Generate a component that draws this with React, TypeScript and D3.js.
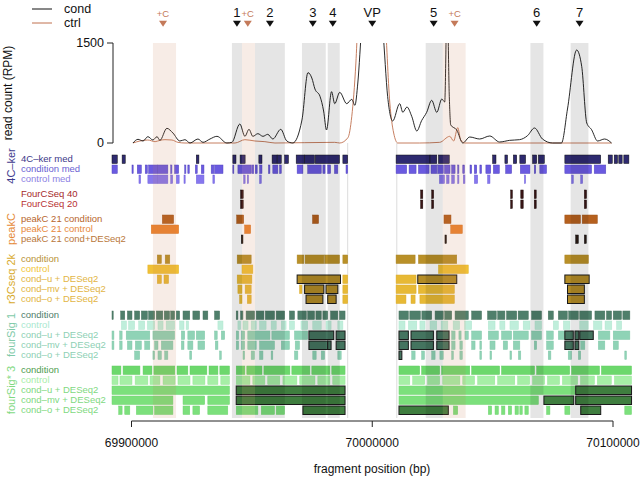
import React from "react";
import * as d3 from "d3";

// genomic positions below are in kb relative to ORIGIN (bp)
const ORIGIN = 69900000;
const xTicks = [69900000, 70000000, 70100000];
const yTicks = [0, 1500];

const condCurve: [number, number][] = [[0.6,0],[2.7,55],[4.8,30],[6.8,95],[8.9,45],[10.6,95],[11.8,40],[14.7,220],[17.2,150],[20.1,30],[22.2,50],[24.3,0],[27.6,60],[29.7,10],[32.6,60],[35.5,100],[39.6,0],[41.7,10],[45.0,285],[47.1,100],[48.8,205],[50.4,100],[52.5,140],[54.6,100],[56.6,130],[58.7,60],[62.0,205],[64.5,30],[67.0,0],[70.8,345],[73.3,1055],[74.9,975],[76.2,810],[78.3,700],[79.8,480],[81.0,195],[83.1,770],[84.4,590],[86.5,760],[89.4,590],[91.5,655],[92.8,565],[94.0,900],[95.7,1800],[99.0,3000],[101.9,2500],[104.4,1700],[106.4,695],[108.5,330],[111.4,590],[112.7,460],[114.4,540],[116.4,400],[118.5,180],[120.5,335],[122.6,460],[124.7,640],[126.8,460],[128.9,660],[130.1,615],[131.1,2200],[132.0,700],[132.6,270],[135.1,195],[137.6,0],[140.5,90],[144.6,60],[148.8,105],[152.9,15],[157.1,40],[161.2,50],[164.5,110],[167.4,225],[170.7,60],[174.9,0],[178.6,0],[181.1,510],[184.9,1395],[187.0,1150],[189.1,300],[191.1,200],[193.6,30],[196.5,60],[199.4,0]];
const ctrlCurve: [number, number][] = [[0.6,0],[3.5,30],[6.8,45],[9.8,20],[11.8,40],[13.9,50],[16.8,45],[19.3,10],[22.2,0],[43.0,0],[47.1,50],[51.3,30],[55.4,20],[59.6,0],[84.4,10],[86.5,0],[89.9,80],[91.5,400],[93.2,1200],[94.8,2500],[100.0,4000],[105.2,2000],[107.3,600],[108.9,150],[110.6,0],[119.7,0],[128.0,10],[132.2,100],[133.8,30],[135.5,230],[136.7,50],[138.4,0],[199.4,0]];

const greyBands: [number, number][] = [[41.7,45.9],[51.3,63.7],[70.8,80.7],[81.5,86.5],[122.2,129.3],[165.7,171.1],[182.4,189.8]];
const plusCBands: [number, number][] = [[8.9,18.5],[45.9,51.3],[129.3,138.8]];
const vpWindow = [89.8, 110.2];

const markerLabels = ["+C","1","+C","2","3","4","VP","5","+C","6","7"];
const markerPos = [13.1,43.8,48.3,57.5,75.3,83.6,100,125.5,134.2,168.3,186.1];

// 4C-ker
const ker4c: [number, number][] = [[-8.1,-5.9],[-3.9,-2.6],[26.9,28.0],[42.1,43.4],[45.1,47.2],[52.9,54.2],[58.4,60.5],[60.5,62.2],[63.6,65.2],[68.4,71.9],[71.9,76.0],[76.3,86.4],[87.8,89.8],[109.9,124.0],[124.0,126.8],[127.5,132.0],[150.0,151.4],[155.1,156.2],[158.6,160.0],[161.3,163.7],[166.6,168.3],[169.0,171.5],[180.0,194.9],[198.0,199.7],[200.5,201.9],[202.4,203.8],[204.5,206.6]];
const condMed: [number, number][] = [[-8.1,-5.9],[0.2,0.7],[2.4,4.1],[5.7,6.6],[7.1,10.7],[10.7,15.1],[16.3,16.8],[17.9,19.6],[22.1,22.6],[23.4,24.0],[26.5,27.3],[29.0,30.1],[33.1,34.2],[34.5,38.0],[42.1,42.5],[44.2,49.7],[50.0,50.8],[51.4,52.2],[53.2,54.2],[56.9,57.5],[58.7,60.8],[61.5,62.2],[68.8,71.2],[73.2,78.8],[79.5,80.4],[81.5,82.7],[84.3,85.7],[89.1,89.8],[109.9,114.3],[115.3,118.2],[119.2,123.6],[124.4,126.8],[127.2,129.5],[130.0,132.3],[133.0,134.4],[135.5,136.0],[137.6,138.3],[140.6,141.3],[142.4,143.4],[144.7,145.4],[147.2,149.2],[150.3,152.8],[155.4,157.9],[161.5,165.5],[167.3,167.9],[169.6,172.4],[180.0,191.1],[192.2,197.0]];
const ctrlMed: [number, number][] = [[3.1,3.8],[6.8,10.7],[10.7,15.1],[16.3,17.1],[18.6,19.8],[21.8,22.3],[26.9,30.1],[33.8,34.5],[46.6,47.2],[48.1,48.6],[53.2,53.9],[127.9,130.0],[130.9,131.9],[133.0,134.1],[135.5,136.0],[137.8,138.5],[142.4,143.8],[147.9,148.9],[163.2,163.7],[182.8,183.5],[186.6,187.4]];
// FourCSeq
const fourC40: [number, number][] = [[45.3,46.4],[120.1,121.0],[124.7,125.5],[157.5,158.2],[161.7,162.7],[167.3,168.1],[188.1,189.0]];
const fourC20: [number, number][] = [[45.3,46.4],[120.1,121.0],[124.7,125.5],[157.5,158.2],[161.7,162.7],[167.3,168.1],[188.1,189.0]];
// peakC
const peakCond: [number, number][] = [[12.8,17.5],[43.7,46.6],[75.2,77.7],[129.8,132.7],[180.0,186.5],[187.2,193.5]];
const peakCtrl: [number, number][] = [[8.2,19.6],[47.0,49.5],[132.6,137.4]];
const peakDESeq: [number, number][] = [[45.6,46.3],[130.2,130.8],[184.5,185.6],[188.1,188.9]];
// r3Cseq
const r3Cond: [number, number][] = [[10.7,12.4],[14.0,15.9],[43.9,49.7],[68.8,71.6],[72.1,79.9],[80.2,86.4],[87.8,89.8],[109.9,117.8],[119.2,135.1],[180.0,189.8]];
const r3Ctrl: [number, number][] = [[6.8,19.6],[45.9,50.4],[127.5,139.9]];
const r3U: [number, number][] = [[10.7,12.4],[13.5,15.4],[43.9,50.0],[87.8,89.8],[109.9,118.2]];
const r3USig: [number, number][] = [[68.8,86.8],[118.9,135.1],[180.0,190.1]];
const r3MV: [number, number][] = [[44.2,45.9],[47.2,49.7],[69.8,70.8],[87.8,89.8],[109.9,118.2],[119.2,134.1]];
const r3MVSig: [number, number][] = [[71.9,79.9],[80.8,85.7],[181.1,188.1]];
const r3O: [number, number][] = [[44.9,45.9],[48.1,49.7],[87.8,89.8],[109.9,114.0],[116.1,117.8],[119.8,134.1]];
const r3OSig: [number, number][] = [[72.5,79.5],[81.5,85.0],[181.1,188.1]];
// fourSig 1
const fs1Cond: [number, number][] = [[-8.1,-7.6],[-4.5,-2.8],[-1.7,0.2],[1.3,3.4],[4.1,6.6],[7.1,9.6],[10.3,13.0],[13.6,15.8],[16.3,17.9],[18.6,20.0],[21.4,24.2],[25.5,28.3],[29.7,31.7],[34.5,36.6],[43.5,44.2],[45.3,46.3],[47.6,51.1],[51.8,55.0],[55.6,59.4],[60.1,63.6],[65.6,67.7],[69.1,72.6],[73.2,76.0],[76.6,78.8],[79.5,81.5],[82.7,85.7],[86.4,88.7],[111.1,115.0],[115.6,120.0],[120.6,124.7],[126.1,129.5],[130.1,133.0],[134.4,139.9],[141.3,145.4],[147.9,151.5],[152.1,155.1],[155.8,160.0],[160.6,164.8],[166.2,170.3],[173.1,175.2],[177.3,181.0],[181.6,185.6],[186.2,191.1],[192.5,196.6],[197.3,199.4],[200.1,203.5],[204.1,207.0]];
const fs1Ctrl: [number, number][] = [[-4.2,-2.1],[-1.2,1.3],[3.0,5.5],[6.6,9.6],[11.0,13.1],[14.4,17.9],[20.0,21.8],[22.7,23.7],[35.9,38.0],[44.2,45.3],[46.3,48.4],[49.7,51.8],[53.2,55.9],[58.0,60.1],[62.2,64.2],[65.6,67.7],[70.4,73.2],[75.3,78.8],[80.8,82.9],[85.7,87.8],[111.1,113.6],[115.0,118.5],[119.8,121.9],[124.0,126.8],[128.6,131.4],[133.6,136.3],[138.4,141.3],[148.2,151.0],[153.0,155.1],[157.2,160.7],[162.7,165.5],[167.6,170.3],[175.2,177.3],[179.4,182.1],[186.2,189.7],[191.9,195.4],[196.7,199.5],[201.5,203.6]];
const fs1U: [number, number][] = [[-8.1,-7.3],[-4.9,-3.9],[-2.2,7.6],[8.9,17.9],[20.7,22.1],[23.4,26.2],[26.9,30.4],[34.5,35.6],[37.3,38.7],[43.5,44.5],[45.6,47.0],[48.3,57.5],[58.3,65.6],[67.7,73.2],[133.0,134.4],[136.0,136.9],[138.5,139.9],[141.3,145.4],[148.2,152.4],[153.7,157.9],[158.6,164.8],[166.2,170.3],[172.4,175.2],[177.3,180.0],[193.9,198.7],[200.1,207.0]];
const fs1USig: [number, number][] = [[73.7,84.0],[85.0,88.7],[111.1,115.0],[116.1,125.4],[126.8,131.9],[180.0,183.5],[184.2,185.8],[186.2,191.8]];
const fs1MV: [number, number][] = [[-8.1,-7.3],[-4.9,-3.9],[-1.7,0.2],[1.6,4.1],[5.5,7.6],[9.6,11.0],[12.4,17.2],[20.7,21.8],[23.4,25.5],[27.6,30.4],[34.8,35.9],[43.5,44.5],[45.6,47.0],[48.3,51.8],[53.2,59.4],[62.2,65.6],[68.0,69.8],[133.0,134.4],[136.4,137.4],[141.3,142.7],[144.7,145.4],[148.9,151.0],[154.4,156.2],[158.6,161.3],[167.3,168.3],[172.4,175.2],[186.6,188.3],[193.9,196.6],[200.1,202.2]];
const fs1MVSig: [number, number][] = [[73.7,81.5],[81.5,82.9],[85.0,88.7],[111.1,115.0],[116.1,125.4],[126.8,131.9],[180.0,183.5],[184.2,185.8]];
const fs1O: [number, number][] = [[1.3,3.4],[8.9,9.6],[11.0,12.4],[13.8,15.1],[24.2,25.0],[36.6,37.3],[46.3,47.0],[49.7,51.1],[53.2,54.6],[58.0,58.7],[67.7,69.1],[75.3,76.7],[78.8,80.2],[85.7,87.1],[116.4,117.8],[120.5,121.7],[124.7,126.1],[128.1,129.5],[133.0,133.7],[136.4,137.4],[144.7,145.4],[148.9,149.6],[157.2,157.9],[160.7,161.7],[173.1,174.2],[181.4,182.8],[185.6,186.6],[204.9,205.6]];
const fs1OSig: [number, number][] = [[111.1,112.3]];
// fourSig* 3
const fs3Cond: [number, number][] = [[-8.1,-4.4],[-3.5,3.5],[4.8,8.5],[9.3,18.0],[18.9,23.4],[24.3,31.3],[32.2,35.9],[36.7,40.7],[43.5,47.1],[47.9,54.2],[55.0,65.8],[66.6,74.1],[74.9,82.4],[83.2,88.7],[111.1,119.7],[120.5,128.0],[128.8,140.5],[141.3,152.9],[153.7,167.4],[168.3,182.0],[182.8,194.4],[195.2,207.7]];
const fs3Ctrl: [number, number][] = [[-8.1,-5.6],[-4.8,0.2],[1.5,6.8],[7.7,11.8],[13.1,18.1],[19.3,24.3],[25.5,30.5],[31.7,35.9],[37.1,40.7],[43.5,49.2],[50.4,55.4],[56.6,61.6],[62.9,68.7],[69.9,76.2],[77.4,82.4],[83.6,88.7],[111.1,115.6],[116.8,121.8],[123.0,128.0],[129.3,136.4],[137.6,142.5],[143.8,150.9],[152.1,159.2],[160.4,165.4],[166.6,171.6],[172.8,177.8],[179.0,185.3],[186.5,192.3],[193.5,199.3],[200.6,207.7]];
const fs3U: [number, number][] = [[-8.1,40.7],[111.1,184.2]];
const fs3USig: [number, number][] = [[43.5,88.7],[184.5,207.7]];
const fs3MV: [number, number][] = [[-8.1,17.2],[21.4,30.4],[31.7,40.7],[111.1,169.0]];
const fs3MVSig: [number, number][] = [[43.5,88.7],[171.3,183.7],[184.5,207.7]];
const fs3O: [number, number][] = [[-5.3,-3.9],[-2.8,-0.7],[2.0,8.9],[9.6,17.2],[21.4,24.2],[25.5,28.3],[31.7,40.0],[43.5,52.5],[53.9,59.4],[60.1,63.6],[133.7,135.5],[148.2,149.6],[151.0,152.4],[153.7,155.1],[156.5,157.9],[159.3,160.7],[161.3,162.3],[163.4,164.8],[172.4,173.8],[180.0,182.1],[204.9,207.7]];
const fs3OSig: [number, number][] = [[71.2,88.7],[111.1,131.6],[186.6,194.9]];

type Row = { label: string; text: string; fill: string; stroke: string; bars: [number, number][]; sig?: [number, number][]; sigFill?: string };
type Group = { name: string; color: string; top: number; labelY: number; rows: Row[] };

const groups: Group[] = [
  { name: "4C\u2013ker", color: "#3e3a8e", top: 155, labelY: 166, rows: [
    { label: "4C\u2013ker med", text: "#3b3888", fill: "#2e2a70", stroke: "#111", bars: ker4c },
    { label: "condition med", text: "#6a5fd3", fill: "#6a5ae0", stroke: "#5546c0", bars: condMed },
    { label: "control med", text: "#8d82e4", fill: "#8677ee", stroke: "#7566dd", bars: ctrlMed },
  ]},
  { name: "", color: "#000", top: 190, labelY: 0, rows: [
    { label: "FourCSeq 40", text: "#a52a2a", fill: "#3a1616", stroke: "#1a0a0a", bars: fourC40 },
    { label: "FourCSeq 20", text: "#b83232", fill: "#3a1616", stroke: "#1a0a0a", bars: fourC20 },
  ]},
  { name: "peakC", color: "#e58a37", top: 215, labelY: 229, rows: [
    { label: "peakC 21 condition", text: "#b7652b", fill: "#b5601e", stroke: "#a0531a", bars: peakCond },
    { label: "peakC 21 control", text: "#e8893c", fill: "#ec8430", stroke: "#d87628", bars: peakCtrl },
    { label: "peakC 21 cond+DESeq2", text: "#b9773a", fill: "#2a1a14", stroke: "#111", bars: peakDESeq },
  ]},
  { name: "r3Cseq 2k", color: "#d8aa2c", top: 255, labelY: 279, rows: [
    { label: "condition", text: "#b89236", fill: "#b99028", stroke: "#a98424", bars: r3Cond },
    { label: "control", text: "#f2c63a", fill: "#f0c035", stroke: "#e4b52e", bars: r3Ctrl },
    { label: "cond\u2013u + DESeq2", text: "#e2b545", fill: "#e7b935", stroke: "#d9ab2e", bars: r3U, sig: r3USig, sigFill: "#b38c26" },
    { label: "cond\u2013mv + DESeq2", text: "#e2b545", fill: "#e7b935", stroke: "#d9ab2e", bars: r3MV, sig: r3MVSig, sigFill: "#b38c26" },
    { label: "cond\u2013o + DESeq2", text: "#e2b545", fill: "#e7b935", stroke: "#d9ab2e", bars: r3O, sig: r3OSig, sigFill: "#b38c26" },
  ]},
  { name: "fourSig 1", color: "#7fcaa9", top: 311, labelY: 335, rows: [
    { label: "condition", text: "#4f7d6b", fill: "#4f7f6b", stroke: "#48735f", bars: fs1Cond },
    { label: "control", text: "#a9e8cf", fill: "#bfeedb", stroke: "#b2e6cf", bars: fs1Ctrl },
    { label: "cond\u2013u + DESeq2", text: "#8ed0b4", fill: "#8fd3b6", stroke: "#84c8aa", bars: fs1U, sig: fs1USig, sigFill: "#44745f" },
    { label: "cond\u2013mv + DESeq2", text: "#8ed0b4", fill: "#8fd3b6", stroke: "#84c8aa", bars: fs1MV, sig: fs1MVSig, sigFill: "#44745f" },
    { label: "cond\u2013o + DESeq2", text: "#8ed0b4", fill: "#8fd3b6", stroke: "#84c8aa", bars: fs1O, sig: fs1OSig, sigFill: "#44745f" },
  ]},
  { name: "fourSig* 3", color: "#7fd97f", top: 366, labelY: 390, rows: [
    { label: "condition", text: "#4f9d4f", fill: "#6cd86c", stroke: "#62cc62", bars: fs3Cond },
    { label: "control", text: "#a8eea8", fill: "#a6efa6", stroke: "#98e598", bars: fs3Ctrl },
    { label: "cond\u2013u + DESeq2", text: "#7fd97f", fill: "#7ce07c", stroke: "#70d470", bars: fs3U, sig: fs3USig, sigFill: "#3f7e3f" },
    { label: "cond\u2013mv + DESeq2", text: "#7fd97f", fill: "#7ce07c", stroke: "#70d470", bars: fs3MV, sig: fs3MVSig, sigFill: "#3f7e3f" },
    { label: "cond\u2013o + DESeq2", text: "#7fd97f", fill: "#7ce07c", stroke: "#70d470", bars: fs3O, sig: fs3OSig, sigFill: "#3f7e3f" },
  ]},
];

const FONT = "'Liberation Sans', Arial, Helvetica, sans-serif";
const ROW_PITCH = 10;
const BAR_H = 8.5;

export default function App() {
  const x = d3.scaleLinear().domain([69900000, 70100000]).range([131.5, 613]);
  const X = (kb: number) => x(ORIGIN + kb * 1000);
  const y = d3.scaleLinear().domain([0, 1500]).range([143, 43]);
  const line = d3.line<[number, number]>().x(d => X(d[0])).y(d => y(d[1])).curve(d3.curveMonotoneX);
  const BAND_TOP = 43, BAND_BOT = 418;

  return (
    <svg width={643} height={482} style={{ position: "absolute", left: 0, top: 0, background: "#fff" }} fontFamily={FONT}>
      <defs>
        <clipPath id="readclip"><rect x={100} y={43} width={540} height={110} /></clipPath>
      </defs>
      {/* legend */}
      <line x1={32} x2={52} y1={9} y2={9} stroke="#111" strokeWidth={1} />
      <text x={64} y={13} fontSize={12.5} fill="#111">cond</text>
      <line x1={32} x2={52} y1={23} y2={23} stroke="#c0704f" strokeWidth={1} />
      <text x={64} y={27} fontSize={12.5} fill="#111">ctrl</text>

      {/* markers */}
      {markerLabels.map((lab, i) => {
        const cx = X(markerPos[i]);
        const isC = lab === "+C";
        const col = isC ? "#c47a5a" : "#111";
        return (
          <g key={"m" + i}>
            <text x={cx} y={isC ? 16.5 : 17.3} textAnchor="middle" fontSize={isC ? 9.5 : 13} fill={col}>{lab}</text>
            <path d={`M${cx - 4},20.7L${cx + 4},20.7L${cx},26.7Z`} fill={col} />
          </g>
        );
      })}

      {/* VP window lines */}
      {vpWindow.map((p, i) => (
        <line key={"vp" + i} x1={X(p)} x2={X(p)} y1={143} y2={BAND_BOT} stroke="#dcdcdc" strokeWidth={1} />
      ))}

      {/* read count axis */}
      <line x1={113} x2={113} y1={y(1500)} y2={y(0)} stroke="#222" strokeWidth={1} />
      {yTicks.map(t => (
        <g key={"yt" + t}>
          <line x1={107} x2={113} y1={y(t)} y2={y(t)} stroke="#222" />
          <text x={104} y={y(t) + 4.3} textAnchor="end" fontSize={12.5} fill="#111">{t}</text>
        </g>
      ))}
      <text transform="translate(12,93) rotate(-90)" textAnchor="middle" fontSize={12} fill="#111">read count (RPM)</text>

      <g clipPath="url(#readclip)">
        <path d={line(ctrlCurve) || ""} fill="none" stroke="#c0704f" strokeWidth={0.9} />
        <path d={line(condCurve) || ""} fill="none" stroke="#111" strokeWidth={0.9} />
      </g>

      {/* tracks */}
      {groups.map((g, gi) => (
        <g key={"g" + gi}>
          {g.name && (
            <text transform={`translate(15,${g.labelY}) rotate(-90)`} textAnchor="middle" fontSize={11} fill={g.color}>{g.name}</text>
          )}
          {g.rows.map((r, ri) => {
            const top = g.top + ri * ROW_PITCH;
            return (
              <g key={"r" + ri}>
                <text x={21} y={top + 7.3} fontSize={9.5} fill={r.text}>{r.label}</text>
                {r.bars.map(([s, e], bi) => (
                  <rect key={"b" + bi} x={X(s)} y={top} width={Math.max(X(e) - X(s), 1)} height={BAR_H} fill={r.fill} stroke={r.stroke} strokeWidth={0.5} />
                ))}
                {(r.sig || []).map(([s, e], bi) => (
                  <rect key={"s" + bi} x={X(s)} y={top} width={Math.max(X(e) - X(s), 1)} height={BAR_H} fill={r.sigFill} stroke="#1a1a1a" strokeWidth={1} />
                ))}
              </g>
            );
          })}
        </g>
      ))}

      {/* shaded peak regions (overlay) */}
      {greyBands.map(([s, e], i) => (
        <rect key={"gb" + i} x={X(s)} y={BAND_TOP} width={X(e) - X(s)} height={BAND_BOT - BAND_TOP} fill="#000" opacity={0.1} />
      ))}
      {plusCBands.map(([s, e], i) => (
        <rect key={"cb" + i} x={X(s)} y={BAND_TOP} width={X(e) - X(s)} height={BAND_BOT - BAND_TOP} fill="#c87b50" opacity={0.14} />
      ))}

      {/* x axis */}
      <line x1={x(xTicks[0])} x2={x(xTicks[xTicks.length - 1])} y1={421} y2={421} stroke="#222" />
      {xTicks.map(t => (
        <g key={"xt" + t}>
          <line x1={x(t)} x2={x(t)} y1={421} y2={427} stroke="#222" />
          <text x={x(t)} y={447} textAnchor="middle" fontSize={12} fill="#111">{t}</text>
        </g>
      ))}
      <text x={372} y={473} textAnchor="middle" fontSize={12} fill="#111">fragment position (bp)</text>
    </svg>
  );
}
